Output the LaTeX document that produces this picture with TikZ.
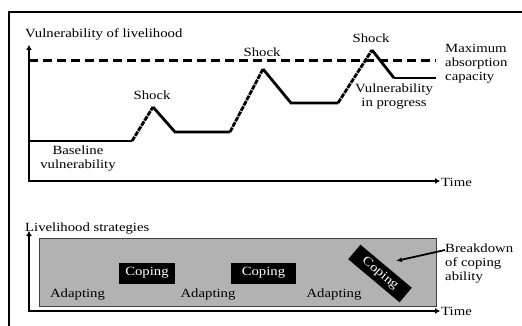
\documentclass[tikz,border=0pt]{standalone}
\usepackage{fontspec}
\setmainfont{Liberation Serif}[FakeStretch=1.18]
\usetikzlibrary{arrows.meta}
\begin{document}
\begin{tikzpicture}[x=1pt,y=-1pt,
  font=\fontsize{12.5}{14}\selectfont,
  axis/.style={line width=2.8pt,{Latex[length=5pt,width=6pt]}-{Latex[length=5pt,width=6pt]}},
  curvethick/.style={line width=2.8pt,line join=miter},
  curvethin/.style={line width=1.6pt},
  risedash/.style={line width=2.8pt,dash pattern=on 5pt off 1pt},
  maxline/.style={line width=3pt,dash pattern=on 9pt off 5pt},
  lbl/.style={inner sep=0pt,align=center},
  lbll/.style={inner sep=0pt,align=left},
  copingbox/.style={fill=black,text=white,inner sep=0pt,minimum height=21pt},
  graybox/.style={fill=black!30,draw=black!75,line width=0.8pt}]
\useasboundingbox (0,0) rectangle (522,326);
% outer frame
\coordinate (fbl) at (9,326);
\coordinate (ftl) at (9,12);
\coordinate (ftr) at (522,12);
\draw[line width=1.3pt] (fbl) -- (ftl) -- (ftr);
% upper chart axes
\coordinate (ytop1) at (29,45);
\coordinate (xend1) at (440,181);
\draw[axis] (ytop1) |- (xend1);
\node[anchor=base west,inner sep=0pt] (ttl1) at (25,38) {Vulnerability of livelihood};
\node[anchor=base west,inner sep=0pt] (time1) at (441,186) {Time};
% max absorption line
\coordinate (m0) at (29,61);
\coordinate (m1) at (436,61);
\draw[maxline] (m0) -- (m1);
\node[lbll,anchor=north west] (maxabs) at (445,44) {Maximum\\absorption\\capacity};
% vulnerability curve
\coordinate (b0) at (29,141);
\coordinate (b1) at (132,141);
\coordinate (p1) at (153,107);
\coordinate (v1) at (175,132);
\coordinate (v1b) at (230,132);
\coordinate (p2) at (263,69);
\coordinate (v2) at (291,103);
\coordinate (v2b) at (338,103);
\coordinate (p3) at (372,50);
\coordinate (v3) at (394,78);
\coordinate (e3) at (436,78);
\draw[curvethin] (b0) -- (b1);
\draw[risedash] (b1) -- (p1);
\draw[curvethick] (p1) -- (v1) -- (v1b);
\draw[risedash] (v1b) -- (p2);
\draw[curvethick] (p2) -- (v2) -- (v2b);
\draw[risedash] (v2b) -- (p3);
\draw[curvethick] (p3) -- (v3);
\draw[curvethin] (v3) -- (e3);
\node[anchor=base,inner sep=0pt] (shock1) at (152,100) {Shock};
\node[anchor=base,inner sep=0pt] (shock2) at (262,57) {Shock};
\node[anchor=base,inner sep=0pt] (shock3) at (371,43) {Shock};
\node[lbl,anchor=north] (vprog) at (394,84) {Vulnerability\\in progress};
\node[lbl,anchor=north] (basev) at (78,146) {Baseline\\vulnerability};
% lower chart
\node[anchor=base west,inner sep=0pt] (ttl2) at (25,231) {Livelihood strategies};
\node[graybox,minimum width=397pt,minimum height=68pt,inner sep=0pt] (gbox) at (237.5,272) {};
\coordinate (ytop2) at (29,231);
\coordinate (xend2) at (440,311);
\draw[axis] (ytop2) |- (xend2);
\node[anchor=base west,inner sep=0pt] (time2) at (441,315) {Time};
\node[copingbox,minimum width=56pt] (cop1) at (147,273) {Coping};
\node[copingbox,minimum width=65pt] (cop2) at (263.5,273) {Coping};
\node[copingbox,minimum width=67pt,minimum height=19pt,rotate=-40] (cop3) at (380,273.5) {Coping};
\node[lbl] (ad1) at (77.5,295) {Adapting};
\node[lbl] (ad2) at (208,295) {Adapting};
\node[lbl] (ad3) at (334,295) {Adapting};
\node[lbll,anchor=north west] (brk) at (445,244) {Breakdown\\of coping\\ability};
\coordinate (brkarrow) at (396,261);
\draw[line width=1.8pt,-{Latex[length=6pt,width=5pt]}] (brk.north west) ++(0,6) -- (brkarrow);
\end{tikzpicture}
\end{document}
